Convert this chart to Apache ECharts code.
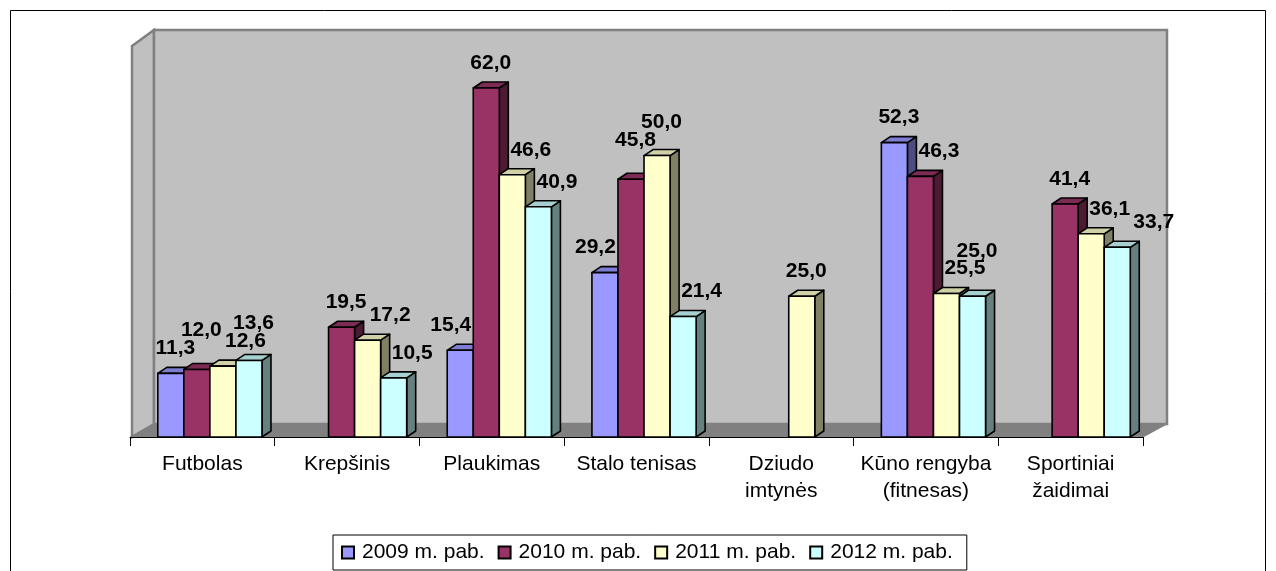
<!DOCTYPE html>
<html><head><meta charset="utf-8">
<script src="https://cdn.jsdelivr.net/npm/echarts@6/dist/echarts.min.js"></script>
<style>html,body{margin:0;padding:0;background:#fff}#c{width:1276px;height:571px}</style>
</head><body><div id="c"></div>
<script>
// ---- data ----
const categories = ['Futbolas', 'Krepšinis', 'Plaukimas', 'Stalo tenisas', 'Dziudo\nimtynės', 'Kūno rengyba\n(fitnesas)', 'Sportiniai\nžaidimai'];
const seriesNames = ['2009 m. pab.', '2010 m. pab.', '2011 m. pab.', '2012 m. pab.'];
const v2009 = [11.3, null, 15.4, 29.2, null, 52.3, null];
const v2010 = [12.0, 19.5, 62.0, 45.8, null, 46.3, 41.4];
const v2011 = [12.6, 17.2, 46.6, 50.0, 25.0, 25.5, 36.1];
const v2012 = [13.6, 10.5, 40.9, 21.4, null, 25.0, 33.7];
const seriesValues = [v2009, v2010, v2011, v2012];

// ---- style ----
const colors = ['#9999FF', '#993366', '#FFFFCC', '#CCFFFF'];
const FONT = '"Liberation Sans", Arial, sans-serif';
const LABEL_FONT = 'bold 21px ' + FONT;
const DX = 9, DY = -6;         // bar depth
const WDX = 24, WDY = -13;     // wall depth
const BAR_FR = 0.18, GROUP_SHIFT = 0.052;

function shade(hex, f) {
  const n = parseInt(hex.slice(1), 16);
  const r = Math.round(((n >> 16) & 255) * f), g = Math.round(((n >> 8) & 255) * f), b = Math.round((n & 255) * f);
  return 'rgb(' + r + ',' + g + ',' + b + ')';
}
const fmt = v => v.toFixed(1).replace('.', ',');
const mctx = document.createElement('canvas').getContext('2d');
mctx.font = LABEL_FONT;
const textW = t => mctx.measureText(t).width;

function barGeom(api, cat, s, v) {
  const p = api.coord([cat, v]);
  const p0 = api.coord([cat, 0]);
  const bw = api.size([1, 0])[0];
  const w = bw * BAR_FR;
  const left = p[0] + bw * GROUP_SHIFT + (s - 2) * w;
  return { left: left, w: w, top: p[1], bottom: p0[1] };
}

function overlap(a, b) {
  return a.x1 < b.x2 - 1 && b.x1 < a.x2 - 1 && a.y1 < b.y2 - 1 && b.y1 < a.y2 - 1;
}

// label placement avoiding overlaps inside one category (cheapest nudge wins)
const layoutCache = {};
function placeLabels(api, cat) {
  if (layoutCache[cat]) return layoutCache[cat];
  const bars = [];
  for (let s = 0; s < 4; s++) {
    const v = seriesValues[s][cat];
    if (v == null) continue;
    const g = barGeom(api, cat, s, v);
    bars.push({ s: s, v: v, g: g, x1: g.left, x2: g.left + g.w + DX, y1: g.top + DY, y2: g.bottom });
  }
  const placed = [];
  const res = {};
  const th = 18, pad = 2;
  bars.forEach(b => {
    const text = fmt(b.v);
    const tw = textW(text) + 2 * pad;
    const cx0 = b.g.left + b.g.w / 2 + DX / 2;
    const cy0 = b.g.top + DY - 19;
    let best = null, bestCost = Infinity;
    for (let up = 0; up <= 120; up += 2) {
      for (let r = -16; r <= 40; r += 2) {
        const cost = (r < 0 ? -1.5 * r : r) + up;
        if (cost >= bestCost) continue;
        const box = { x1: cx0 + r - tw / 2, x2: cx0 + r + tw / 2, y1: cy0 - up - th / 2, y2: cy0 - up + th / 2 };
        if (placed.some(o => overlap(o, box))) continue;
        if (bars.some(o => o.s !== b.s && overlap(o, box))) continue;
        best = { x: cx0 + r, y: cy0 - up, box: box };
        bestCost = cost;
      }
    }
    if (!best) best = { x: cx0, y: cy0, box: { x1: cx0 - tw / 2, x2: cx0 + tw / 2, y1: cy0 - 9, y2: cy0 + 9 } };
    placed.push(best.box);
    res[b.s] = { x: best.x, y: best.y, text: text };
  });
  layoutCache[cat] = res;
  return res;
}

const barSeries = seriesNames.map((name, s) => ({
  name: name,
  type: 'custom',
  z: 3 + s,
  itemStyle: { color: colors[s], borderColor: '#000', borderWidth: 2 },
  data: seriesValues[s].map((v, i) => v == null ? null : [i, v]).filter(d => d),
  encode: { x: 0, y: 1 },
  renderItem: function (params, api) {
    const cat = api.value(0), v = api.value(1);
    const g = barGeom(api, cat, s, v);
    const L = g.left, R = g.left + g.w, T = g.top, B = g.bottom;
    const line = { stroke: '#000', lineWidth: 1.6, lineJoin: 'round' };
    return {
      type: 'group',
      children: [
        { type: 'polygon', shape: { points: [[R, T], [R + DX, T + DY], [R + DX, B + DY], [R, B]] },
          style: Object.assign({ fill: shade(colors[s], 0.5) }, line) },
        { type: 'polygon', shape: { points: [[L, T], [L + DX, T + DY], [R + DX, T + DY], [R, T]] },
          style: Object.assign({ fill: shade(colors[s], 0.82) }, line) },
        { type: 'rect', shape: { x: L, y: T, width: g.w, height: B - T },
          style: Object.assign({ fill: colors[s] }, line) }
      ]
    };
  }
}));

const labelData = [];
seriesValues.forEach((arr, s) => arr.forEach((v, i) => { if (v != null) labelData.push([i, v, s]); }));

const labelSeries = {
  name: 'labels',
  type: 'custom',
  z: 20,
  silent: true,
  data: labelData,
  encode: { x: 0, y: 1 },
  renderItem: function (params, api) {
    const cat = api.value(0), s = api.value(2);
    const L = placeLabels(api, cat)[s];
    return { type: 'text', style: { x: L.x, y: L.y, text: L.text, fill: '#000', font: LABEL_FONT, align: 'center', verticalAlign: 'middle' } };
  }
};

const wallSeries = {
  name: 'walls',
  type: 'custom',
  z: 1,
  silent: true,
  data: [[0, 0]],
  encode: { x: 0, y: 1 },
  renderItem: function (params) {
    const cs = params.coordSys;
    const x0 = cs.x, x1 = cs.x + cs.width, y0 = cs.y, y1 = cs.y + cs.height;
    return {
      type: 'group',
      children: [
        { type: 'polygon', shape: { points: [[x0 + 2, y0 + 3], [x0 + WDX, y0 + WDY], [x0 + WDX, y1 + WDY], [x0 + 2, y1]] },
          style: { fill: '#c0c0c0', stroke: '#808080', lineWidth: 2.5 } },
        { type: 'rect', shape: { x: x0 + WDX, y: y0 + WDY, width: cs.width, height: cs.height },
          style: { fill: '#c0c0c0', stroke: '#808080', lineWidth: 2.5 } },
        { type: 'polygon', shape: { points: [[x0, y1], [x1, y1], [x1 + WDX, y1 + WDY], [x0 + WDX, y1 + WDY]] },
          style: { fill: '#808080', stroke: '#808080', lineWidth: 1 } }
      ]
    };
  }
};

const chart = echarts.init(document.getElementById('c'), null, { renderer: 'canvas' });
chart.setOption({
  animation: false,
  backgroundColor: '#fff',
  graphic: [{
    type: 'rect', z: 0, silent: true,
    shape: { x: 10.5, y: 10.5, width: 1255, height: 620 },
    style: { fill: 'none', stroke: '#000', lineWidth: 1 }
  }],
  grid: { left: 130, right: 133, top: 43, bottom: 134, containLabel: false },
  xAxis: {
    type: 'category',
    data: categories,
    boundaryGap: true,
    axisLine: { lineStyle: { color: '#000', width: 1 } },
    axisTick: { show: true, interval: 0, length: 9, lineStyle: { color: '#000' } },
    axisLabel: { interval: 0, color: '#000', fontSize: 21, lineHeight: 27, margin: 14, fontFamily: FONT },
    splitLine: { show: false },
    z: 10
  },
  yAxis: {
    type: 'value', min: 0, max: 70, show: false, splitLine: { show: false }
  },
  legend: {
    data: seriesNames.map(n => ({ name: n, itemStyle: { borderColor: '#000', borderWidth: 2 } })),
    left: 333, top: 535,
    icon: 'rect',
    itemWidth: 12, itemHeight: 12, itemGap: 13,
    itemStyle: { borderColor: '#000', borderWidth: 2 },
    textStyle: { color: '#000', fontSize: 21, fontFamily: FONT, padding: [0, 0, 0, 3] },
    borderColor: '#000', borderWidth: 1,
    padding: [7, 14, 7, 8],
    selectedMode: false
  },
  series: [wallSeries].concat(barSeries, [labelSeries])
});
</script>
</body></html>
